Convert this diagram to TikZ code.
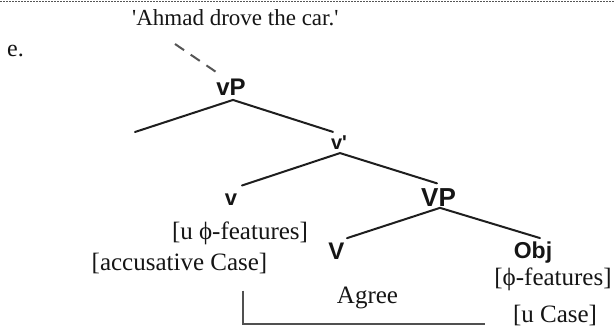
\documentclass[tikz,border=0pt]{standalone}
\usepackage{fontspec}
\setmainfont{Liberation Serif}
\newfontfamily\catfont{Liberation Sans}
\usetikzlibrary{calc}
\newcommand\pxsize[1]{\fontsize{#1}{#1}\selectfont}
\definecolor{ink}{HTML}{151515}
\definecolor{treeline}{HTML}{1E1E1E}
\definecolor{bracketline}{HTML}{505050}
\definecolor{dashline}{HTML}{555555}

\begin{document}
\begin{tikzpicture}[x=1pt,y=-1pt,
  cat/.style={inner sep=0pt,text=ink,font=\catfont\bfseries\pxsize{#1}},
  feat/.style={inner sep=0pt,text=ink,font=\pxsize{25}},
  prose/.style={inner sep=0pt,text=ink,anchor=base west,font=\pxsize{23}},
  branch/.style={draw=treeline,line width=2pt,line cap=round},
  agreeline/.style={draw=bracketline,line width=2pt},
  moved/.style={draw=dashline,line width=2pt,dash pattern=on 11pt off 8pt},
  rule/.style={draw=dashline,line width=1.3pt,dash pattern=on 2pt off 1pt}]
\useasboundingbox (0,0) rectangle (614,331);
\fill[white] (0,0) rectangle (614,331);

% dotted rule along the top edge
\draw[rule] (0,1.5) -- (614,1.5);

% gloss and example label
\node[prose] (gloss) at (132,25.5) {\textquotesingle Ahmad drove the car.\textquotesingle};
\node[prose,font=\pxsize{24}] (exlabel) at (7,57) {e.};

% category labels of the tree
\node[cat=24] (vP) at (231,87.5) {vP};
\node[cat=20] (vbar) at (339,143) {v\textquotesingle};
\node[cat=22] (v) at (231,199.5) {v};
\node[cat=26] (VP) at (438.5,197.5) {VP};
\node[cat=24] (V) at (336.5,251) {V};
\node[cat=23] (obj) at (533,253) {Obj};

% feature bundles
\node[feat] (uphi) at (240,233.5) {[u ϕ-features]};
\node[feat] (acc) at (179.5,264) {[accusative Case]};
\node[feat] (phi) at (553,279) {[ϕ-features]};
\node[feat] (ucase) at (555,316) {[u Case]};
\node[feat] (agree) at (367.5,298) {Agree};

% free ends
\coordinate (spec) at (135,132);
\coordinate (mover) at (175,44);

% movement trace into vP
\draw[moved] (mover) -- ($(vP.north west)+(3,-5)$);

% branches
\draw[branch] (spec) -- ($(vP.south)+(2,4)$) -- ($(vbar.north)+(-6,-4)$);
\draw[branch] ($(v.north)+(11,-8)$) -- ($(vbar.south)+(1,3)$) -- ($(VP.north)+(-1.5,-5)$);
\draw[branch] ($(V.north)+(10.5,-4.4)$) -- ($(VP.south)+(1.5,1.2)$) -- ($(obj.north)+(7,-4)$);

% Agree relation between the two Case features
\draw[agreeline] ($(acc.south)+(63.5,16)$) |- ($(ucase.west)+(-28,8)$);
\end{tikzpicture}
\end{document}
